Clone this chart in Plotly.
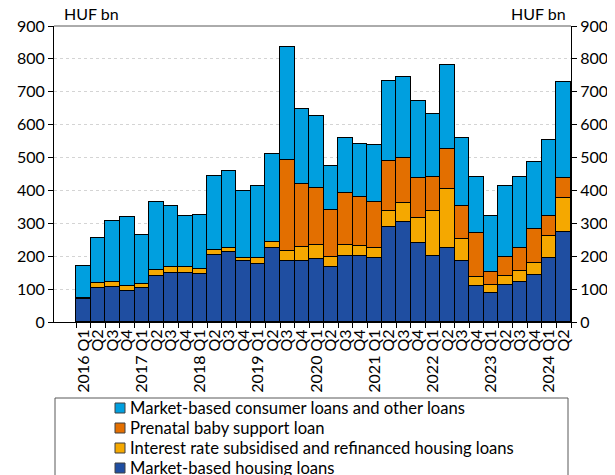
import plotly.graph_objects as go

# quarters 2016 Q1 .. 2024 Q2
years = list(range(2016, 2025))
quarter_ids = [f"{y} Q{q}" for y in years for q in range(1, 5)][:34]
quarter_labels = [qid if qid.endswith("Q1") else qid[-2:] for qid in quarter_ids]

# HUF bn
housing_market = [70, 104, 107, 94, 104, 140, 148, 148, 146, 203, 214, 186, 176, 225,
                  186, 186, 193, 167, 201, 200, 195, 288, 304, 240, 201, 226, 184, 109,
                  88, 113, 123, 142, 196, 273]
housing_subsidised = [4, 14, 14, 14, 11, 17, 19, 19, 15, 15, 12, 8, 20, 18,
                      29, 41, 42, 30, 34, 31, 31, 50, 57, 75, 135, 179, 67, 29,
                      25, 26, 31, 38, 66, 103]
prenatal_baby = [0, 0, 0, 0, 0, 0, 0, 0, 0, 0, 0, 0, 0, 0,
                 279, 193, 173, 143, 157, 149, 138, 152, 137, 123, 104, 120, 101, 132,
                 39, 58, 72, 102, 59, 63]
consumer_other = [96, 138, 185, 212, 151, 209, 186, 156, 164, 225, 232, 205, 219, 269,
                  342, 227, 218, 135, 166, 161, 174, 244, 247, 233, 193, 257, 206, 172,
                  171, 218, 215, 203, 232, 291]

series = [
    ("Market-based housing loans", housing_market, "#1f4ea1"),
    ("Interest rate subsidised and refinanced housing loans", housing_subsidised, "#f5a800"),
    ("Prenatal baby support loan", prenatal_baby, "#e36f00"),
    ("Market-based consumer loans and other loans", consumer_other, "#009fdf"),
]

FONT = "Lato, Liberation Sans, Arial, sans-serif"
TICK = 16
LEG = 16.6

# plot area in figure pixels (page has an 8px body margin)
L, R, T, B = 46, 52, 18, 161
W, H = 615, 475
PW, PH = W - L - R, H - T - B

def px_x(fx):
    return (fx - L) / PW

def px_y(fy):
    return (H - B - fy) / PH

fig = go.Figure()
for name, vals, color in series:
    fig.add_trace(go.Bar(
        x=quarter_ids, y=vals, name=name, showlegend=False,
        marker=dict(color=color, line=dict(color="black", width=1)),
    ))

# dummy trace so the right-hand axis gets drawn
fig.add_trace(go.Scatter(x=[quarter_ids[0]], y=[0], yaxis="y2", mode="markers",
                         marker=dict(opacity=0), showlegend=False, hoverinfo="skip"))

shapes = [
    dict(type="line", xref="paper", yref="paper", x0=0, x1=1, y0=1, y1=1,
         line=dict(color="#595959", width=1)),
    dict(type="rect", xref="paper", yref="paper", x0=px_x(47), x1=px_x(560),
         y0=px_y(520), y1=px_y(390), line=dict(color="#595959", width=1)),
]
annotations = [
    dict(text="HUF bn", xref="paper", yref="paper", x=px_x(54), y=px_y(6),
         xanchor="left", yanchor="middle", showarrow=False, font=dict(size=TICK)),
    dict(text="HUF bn", xref="paper", yref="paper", x=px_x(560), y=px_y(6),
         xanchor="right", yanchor="middle", showarrow=False, font=dict(size=TICK)),
]

# hand-built legend (fixed row pitch like the original)
for k, (name, vals, color) in enumerate(reversed(series)):
    cy = 400 + 20 * k
    shapes.append(dict(type="rect", xref="paper", yref="paper",
                       x0=px_x(107), x1=px_x(117), y0=px_y(cy + 5), y1=px_y(cy - 5),
                       fillcolor=color, line=dict(color="#404040", width=1)))
    annotations.append(dict(text=name, xref="paper", yref="paper",
                            x=px_x(120), y=px_y(cy), xanchor="left", yanchor="middle",
                            showarrow=False, font=dict(size=LEG)))

fig.update_layout(
    width=W, height=H,
    margin=dict(l=L, r=R, t=T, b=B, autoexpand=False),
    paper_bgcolor="white", plot_bgcolor="white",
    barmode="stack", bargap=0,
    font=dict(family=FONT, size=TICK, color="black"),
    showlegend=False,
    xaxis=dict(
        type="category", tickmode="array", tickvals=quarter_ids, ticktext=quarter_labels,
        tickangle=-90, tickson="boundaries", ticks="outside", ticklen=5,
        tickcolor="black", showline=True, linecolor="black", linewidth=1,
        showgrid=False, tickfont=dict(size=TICK), automargin=False,
    ),
    yaxis=dict(
        range=[0, 900], dtick=100, ticks="outside", ticklen=5, tickcolor="black",
        showline=True, linecolor="black", linewidth=1,
        showgrid=True, gridcolor="#d4d4d4", griddash="dot", gridwidth=1,
        zeroline=False, tickfont=dict(size=TICK), automargin=False,
    ),
    yaxis2=dict(
        range=[0, 900], dtick=100, overlaying="y", side="right",
        ticks="outside", ticklen=5, tickcolor="black",
        showline=True, linecolor="black", linewidth=1,
        showgrid=False, zeroline=False, tickfont=dict(size=TICK), automargin=False,
    ),
    shapes=shapes,
    annotations=annotations,
)

fig.write_html("out.html")
